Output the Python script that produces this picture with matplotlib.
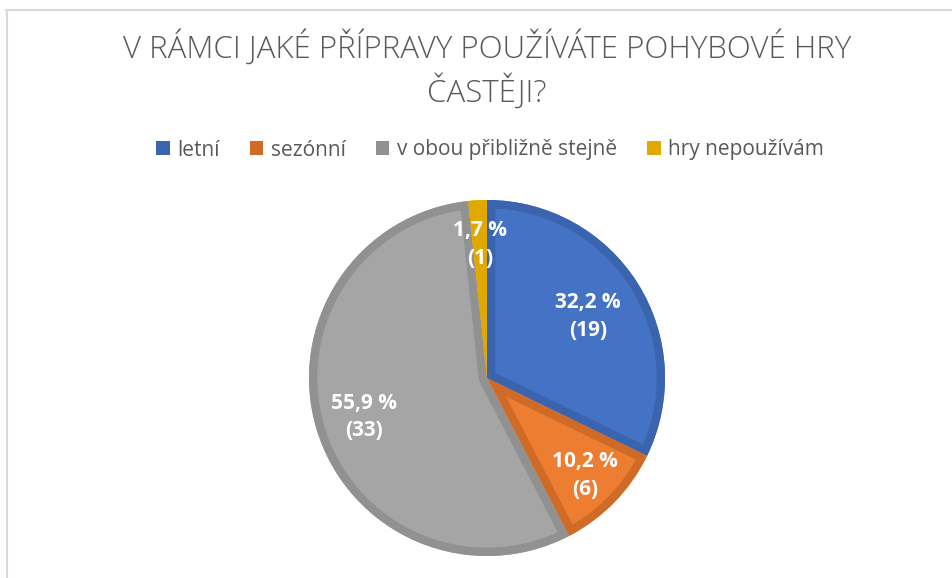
import matplotlib
matplotlib.use("Agg")
import matplotlib.pyplot as plt
import numpy as np
from matplotlib.lines import Line2D
from matplotlib.patches import Patch, Wedge

categories = ["letní", "sezónní", "v obou přibližně stejně", "hry nepoužívám"]
counts = [19, 6, 33, 1]
percent_labels = ["32,2 %", "10,2 %", "55,9 %", "1,7 %"]
fill_colors = ["#4472C4", "#ED7D31", "#A5A5A5", "#E8AE00"]
edge_colors = ["#3B64AE", "#D06B27", "#919191", "#E0A800"]
title = "V RÁMCI JAKÉ PŘÍPRAVY POUŽÍVÁTE POHYBOVÉ HRY\nČASTĚJI?"

W, H = 953, 578
fig = plt.figure(figsize=(W / 100, H / 100), dpi=100)
fig.patch.set_facecolor("white")

# chart area frame (top and left edges)
fig.add_artist(Line2D([6 / W, 1], [1 - 9.5 / H, 1 - 9.5 / H], color="#D9D9D9", lw=1.5))
fig.add_artist(Line2D([6.5 / W, 6.5 / W], [0, 1 - 9.5 / H], color="#D9D9D9", lw=1.5))

# pie axes: centre (487, 378), radius 178 px
cx, cy, r = 487, 378, 178
ax = fig.add_axes([(cx - r) / W, 1 - (cy + r) / H, 2 * r / W, 2 * r / H])
wedges, _ = ax.pie(counts, colors=fill_colors, startangle=90, counterclock=False,
                   radius=1.0, wedgeprops=dict(linewidth=0))
ax.set_xlim(-1, 1)
ax.set_ylim(-1, 1)
ax.set_aspect("equal")
ax.axis("off")

# inset darker outline on each slice: a stroked copy clipped to the slice
for w, ec in zip(wedges, edge_colors):
    outline = Wedge(w.center, w.r, w.theta1, w.theta2, facecolor="none",
                    edgecolor=ec, linewidth=12, joinstyle="miter")
    ax.add_patch(outline)
    outline.set_clip_path(w)

label_dist = [0.67, 0.77, 0.72, 0.76]
for w, p, n, d in zip(wedges, percent_labels, counts, label_dist):
    mid = np.deg2rad((w.theta1 + w.theta2) / 2)
    ax.text(d * np.cos(mid), d * np.sin(mid) - 0.01, f"{p}\n({n})", ha="center",
            va="center", color="white", fontsize=15, fontweight="bold",
            family="Open Sans", linespacing=1.4)

fig.text(487 / W, 1 - 70 / H, title, ha="center", va="center", fontsize=22.5,
         color="#595959", family="Open Sans", fontweight="light", linespacing=1.3)

handles = [Patch(facecolor=c, edgecolor="none") for c in edge_colors]
leg = fig.legend(handles, categories, loc="center", bbox_to_anchor=(490 / W, 1 - 150 / H),
                 ncol=4, frameon=False, handlelength=0.65, handleheight=0.65,
                 handletextpad=0.35, columnspacing=1.45,
                 prop=dict(family="Open Sans", size=15))
for t in leg.get_texts():
    t.set_color("#595959")

fig.savefig("out.png", dpi=100, facecolor="white")
